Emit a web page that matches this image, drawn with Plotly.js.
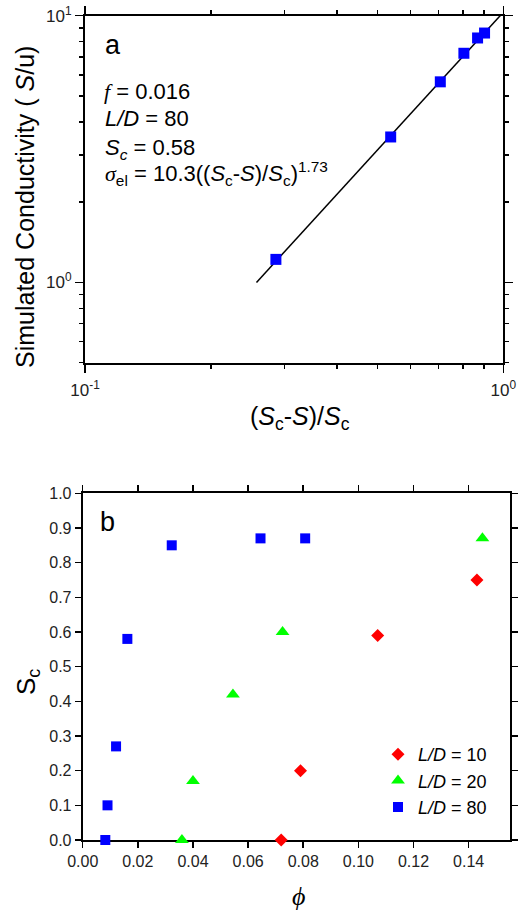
<!DOCTYPE html>
<html>
<head>
<meta charset="utf-8">
<script src="https://cdn.plot.ly/plotly-3.0.1.min.js"></script>
<style>html,body{margin:0;padding:0;background:#fff;}#chart{width:528px;height:911px;}</style>
</head>
<body>
<div id="chart"></div>
<script>
// Panel a: simulated conductivity vs (Sc-S)/Sc, L/D = 80
var aX = [0.286, 0.538, 0.707, 0.805, 0.868, 0.902];
var aY = [1.22, 3.51, 5.65, 7.23, 8.25, 8.61];
// fitted power law line endpoints
var fitX = [0.257, 1.0];
var fitY = [1.0, 10.3];

// Panel b: Sc vs phi for three aspect ratios
var ld10X = [0.072, 0.079, 0.107, 0.143];
var ld10Y = [0.00, 0.20, 0.59, 0.75];
var ld20X = [0.036, 0.040, 0.0545, 0.0725, 0.145];
var ld20Y = [0.00, 0.17, 0.42, 0.60, 0.87];
var ld80X = [0.0082, 0.0090, 0.0121, 0.0162, 0.0323, 0.0645, 0.0807];
var ld80Y = [0.00, 0.10, 0.27, 0.58, 0.85, 0.87, 0.87];

var seriesNames = ['<i>L/D</i> = 10', '<i>L/D</i> = 20', '<i>L/D</i> = 80'];

var aXTickVals = [0.1, 1];
var aXTickText = ['10<sup>-1</sup>', '10<sup>0</sup>'];
var aYTickVals = [1, 10];
var aYTickText = ['10<sup>0</sup>', '10<sup>1</sup>'];
var aXMinor = [0.2, 0.3, 0.4, 0.5, 0.6, 0.7, 0.8, 0.9];
var aYMinor = [0.5, 0.6, 0.7, 0.8, 0.9, 2, 3, 4, 5, 6, 7, 8, 9];

var FONT = 'Liberation Sans, Arial, sans-serif';
var W = 528, H = 911;
function px(x){ return x / W; }
function py(y){ return 1 - y / H; }

var traces = [
  {x: fitX, y: fitY, xaxis: 'x', yaxis: 'y', mode: 'lines', showlegend: false,
   line: {color: '#000', width: 1.5}},
  {x: aX, y: aY, xaxis: 'x', yaxis: 'y', mode: 'markers', showlegend: false, cliponaxis: false,
   marker: {symbol: 'square', size: 11, color: '#0000ff'}},
  {x: ld10X, y: ld10Y, xaxis: 'x2', yaxis: 'y2', mode: 'markers', name: seriesNames[0], cliponaxis: false,
   marker: {symbol: 'diamond', size: 10, color: '#ff0000'}},
  {x: ld20X, y: ld20Y, xaxis: 'x2', yaxis: 'y2', mode: 'markers', name: seriesNames[1], cliponaxis: false,
   marker: {symbol: 'triangle-up', size: 12, color: '#00ff00'}},
  {x: ld80X, y: ld80Y, xaxis: 'x2', yaxis: 'y2', mode: 'markers', name: seriesNames[2], cliponaxis: false,
   marker: {symbol: 'square', size: 10, color: '#0000ff'}}
];

var axisCommon = {
  showline: true, linecolor: '#000', linewidth: 2, mirror: 'ticks',
  ticks: 'outside', tickcolor: '#000', tickwidth: 1.5,
  showgrid: false, zeroline: false, layer: 'below traces',
  tickfont: {family: FONT, color: '#222'}
};
function ax(extra){ return Object.assign({}, axisCommon, extra); }

var layout = {
  width: W, height: H,
  margin: {l: 0, r: 0, t: 0, b: 0},
  paper_bgcolor: '#fff', plot_bgcolor: '#fff',
  font: {family: FONT, color: '#000'},
  xaxis: ax({type: 'log', range: [-1, 0], domain: [px(85), px(503.3)], anchor: 'y',
    tickmode: 'array', tickvals: aXTickVals, ticktext: aXTickText, ticklen: 8,
    ticklabelstandoff: 3, tickfont: {family: FONT, color: '#222', size: 17},
    minor: {tickmode: 'array', tickvals: aXMinor, ticks: 'outside', ticklen: 4, tickcolor: '#000', tickwidth: 1.5, showgrid: false}}),
  yaxis: ax({type: 'log', range: [Math.log10(0.5), 1], domain: [py(362.7), py(15.7)], anchor: 'x',
    tickmode: 'array', tickvals: aYTickVals, ticktext: aYTickText, ticklen: 8,
    tickfont: {family: FONT, color: '#222', size: 17},
    minor: {tickmode: 'array', tickvals: aYMinor, ticks: 'outside', ticklen: 4, tickcolor: '#000', tickwidth: 1.5, showgrid: false}}),
  xaxis2: ax({range: [0, 0.155], domain: [px(82.7), px(510)], anchor: 'y2',
    tickmode: 'linear', tick0: 0, dtick: 0.02, tickformat: '.2f', ticklen: 6,
    tickfont: {family: FONT, color: '#222', size: 16}}),
  yaxis2: ax({range: [0, 1], domain: [py(840), py(493.3)], anchor: 'x2',
    tickmode: 'linear', tick0: 0, dtick: 0.1, tickformat: '.1f', ticklen: 6,
    tickfont: {family: FONT, color: '#222', size: 16}}),
  showlegend: true,
  legend: {x: px(378), y: py(736), xanchor: 'left', yanchor: 'top', bgcolor: 'rgba(0,0,0,0)',
    font: {family: FONT, size: 18, color: '#000'}, tracegroupgap: 0},
  annotations: [
    // axis titles
    {text: 'Simulated Conductivity ( <i>S</i>/u)', xref: 'paper', yref: 'paper', x: px(25), y: py(207),
     xanchor: 'center', yanchor: 'middle', textangle: -90, showarrow: false, font: {family: FONT, size: 25, color: '#000'}},
    {text: '(<i>S</i><sub>c</sub>-<i>S</i>)/<i>S</i><sub>c</sub>', xref: 'paper', yref: 'paper', x: px(300), y: py(418),
     xanchor: 'center', yanchor: 'middle', showarrow: false, font: {family: FONT, size: 25, color: '#000'}},
    {text: 'S<sub>c</sub>', xref: 'paper', yref: 'paper', x: px(27), y: py(682),
     xanchor: 'center', yanchor: 'middle', textangle: -90, showarrow: false, font: {family: FONT, size: 26, color: '#000'}},
    {text: '<i>ϕ</i>', xref: 'paper', yref: 'paper', x: px(298), y: py(896),
     xanchor: 'center', yanchor: 'middle', showarrow: false, font: {family: 'Liberation Serif, serif', size: 26, color: '#000'}},
    // panel labels
    {text: 'a', xref: 'paper', yref: 'paper', x: px(103), y: py(45),
     xanchor: 'left', yanchor: 'middle', showarrow: false, font: {family: FONT, size: 27, color: '#000'}},
    {text: 'b', xref: 'paper', yref: 'paper', x: px(98), y: py(522),
     xanchor: 'left', yanchor: 'middle', showarrow: false, font: {family: FONT, size: 27, color: '#000'}},
    // panel a parameters
    {text: '<span style="font-family:Liberation Serif"><i>f</i></span> = 0.016', xref: 'paper', yref: 'paper', x: px(102), y: py(91),
     xanchor: 'left', yanchor: 'middle', showarrow: false, font: {family: FONT, size: 22, color: '#000'}},
    {text: '<i>L/D</i> = 80', xref: 'paper', yref: 'paper', x: px(103), y: py(119),
     xanchor: 'left', yanchor: 'middle', showarrow: false, font: {family: FONT, size: 22, color: '#000'}},
    {text: '<i>S<sub>c</sub></i> = 0.58', xref: 'paper', yref: 'paper', x: px(103), y: py(149),
     xanchor: 'left', yanchor: 'middle', showarrow: false, font: {family: FONT, size: 22, color: '#000'}},
    {text: '<span style="font-family:Liberation Serif"><i>σ</i></span><sub>el</sub> = 10.3((<i>S</i><sub>c</sub>-<i>S</i>)/<i>S</i><sub>c</sub>)<sup>1.73</sup>', xref: 'paper', yref: 'paper', x: px(103), y: py(173),
     xanchor: 'left', yanchor: 'middle', showarrow: false, font: {family: FONT, size: 22, color: '#000'}}
  ]
};

Plotly.newPlot('chart', traces, layout, {staticPlot: true, displayModeBar: false});
</script>
</body>
</html>
